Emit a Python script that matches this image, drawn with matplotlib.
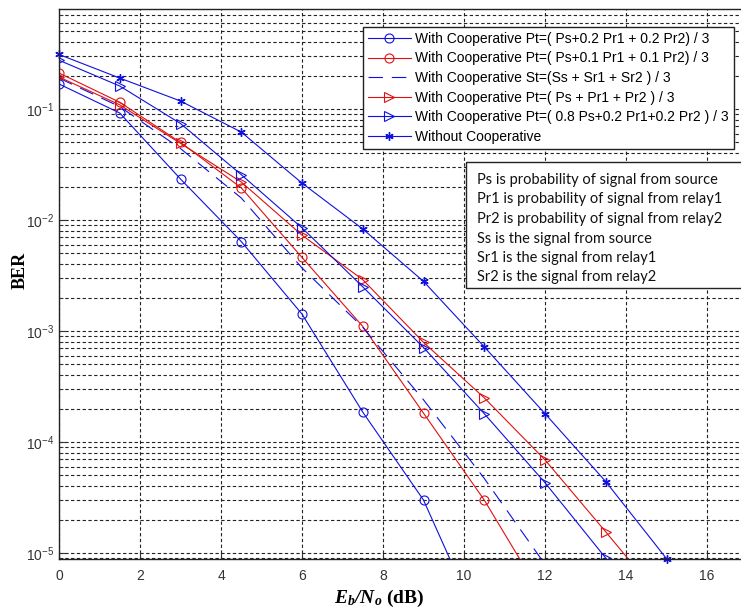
import matplotlib
matplotlib.use("Agg")
import matplotlib.pyplot as plt
from matplotlib.patches import Rectangle
from matplotlib.ticker import LogLocator, NullFormatter, FixedLocator

plt.rcParams['font.family'] = ['Liberation Sans', 'DejaVu Sans']
plt.rcParams['mathtext.fontset'] = 'custom'
plt.rcParams['mathtext.rm'] = 'Liberation Sans'
plt.rcParams['mathtext.it'] = 'Liberation Sans:italic'
plt.rcParams['mathtext.bf'] = 'Liberation Sans:bold'
plt.rcParams['mathtext.bfit'] = 'Liberation Serif:bold:italic'

# ---------------- data ----------------
ebno = [0, 1.5, 3, 4.5, 6, 7.5, 9, 10.5, 12, 13.5, 15]

ber_coop_02 = [0.168, 0.092, 0.0234, 0.0064, 0.00142, 1.86e-4, 3.0e-5, 1.8e-6]
ber_coop_01 = [0.211, 0.115, 0.050, 0.0195, 0.0046, 0.0011, 1.82e-4, 3.0e-5, 3.7e-6]
ber_coop_st = [0.19, 0.105, 0.044, 0.0158, 0.0037, 0.00108, 2.4e-4, 4.7e-5, 7.9e-6]
ber_coop_eq = [0.194, 0.109, 0.049, 0.022, 0.0073, 0.0029, 7.9e-4, 2.5e-4, 6.9e-5, 1.55e-5, 3.4e-6]
ber_coop_08 = [0.275, 0.161, 0.074, 0.0256, 0.0085, 0.0025, 7.1e-4, 1.8e-4, 4.3e-5, 9.0e-6, 2.0e-6]
ber_nocoop = [0.31, 0.19, 0.118, 0.062, 0.0215, 0.0083, 0.0028, 7.2e-4, 1.8e-4, 4.4e-5, 8.9e-6]

labels = [
    "With Cooperative Pt=( Ps+0.2 Pr1 + 0.2 Pr2) / 3",
    "With Cooperative Pt=( Ps+0.1 Pr1 + 0.1 Pr2) / 3",
    "With Cooperative St=(Ss + Sr1 + Sr2 ) / 3",
    "With Cooperative Pt=( Ps + Pr1 + Pr2 ) / 3",
    "With Cooperative Pt=( 0.8 Ps+0.2 Pr1+0.2 Pr2 ) / 3",
    "Without Cooperative",
]

note_lines = [
    "Ps is probability of signal from source",
    "Pr1 is probability of signal from relay1",
    "Pr2 is probability of signal from relay2",
    "Ss is the signal from source",
    "Sr1 is the signal from relay1",
    "Sr2 is the signal from relay2",
]

x_ticks = [0, 2, 4, 6, 8, 10, 12, 14, 16]

# ---------------- figure ----------------
W, H = 741, 613
fig = plt.figure(figsize=(W / 100, H / 100), dpi=100)
left_px, top_px, bottom_px = 59, 9, 559
xmax = 18
px_per_unit = 40.5
ax = fig.add_axes([left_px / W, (H - bottom_px) / H,
                   xmax * px_per_unit / W, (bottom_px - top_px) / H])

lw = 0.8
blue = '#1010e0'
red = '#e01010'
ax.plot(ebno[:len(ber_coop_02)], ber_coop_02, color=blue, lw=lw, marker='o',
        mfc='none', mec=blue, ms=6.5, mew=0.8, label=labels[0])
ax.plot(ebno[:len(ber_coop_01)], ber_coop_01, color=red, lw=lw, marker='o',
        mfc='none', mec=red, ms=6.5, mew=0.8, label=labels[1])
ax.plot(ebno[:len(ber_coop_st)], ber_coop_st, color=blue, lw=lw,
        linestyle=(0, (13, 8)), label=labels[2])
ax.plot(ebno[:len(ber_coop_eq)], ber_coop_eq, color=red, lw=lw, marker='>',
        mfc='none', mec=red, ms=6.5, mew=0.8, label=labels[3])
ax.plot(ebno[:len(ber_coop_08)], ber_coop_08, color=blue, lw=lw, marker='>',
        mfc='none', mec=blue, ms=6.5, mew=0.8, label=labels[4])
ax.plot(ebno[:len(ber_nocoop)], ber_nocoop, color=blue, lw=lw, marker=(6, 2, 0),
        ms=6, mew=1.0, mec=blue, label=labels[5], clip_on=False)

ax.set_yscale('log')
ax.set_xlim(0, xmax)
ax.set_ylim(8.83e-6, 0.796)
ax.xaxis.set_major_locator(FixedLocator(x_ticks))
ax.yaxis.set_major_locator(LogLocator(base=10, numticks=20))
ax.yaxis.set_minor_locator(LogLocator(base=10, subs=range(2, 10), numticks=20))
ax.yaxis.set_minor_formatter(NullFormatter())

grid_kw = dict(color='#222222', linestyle=(0, (3, 2.2)), linewidth=0.8)
ax.grid(True, which='major', axis='both', **grid_kw)
ax.grid(True, which='minor', axis='y', **grid_kw)
ax.set_axisbelow(True)

ax.tick_params(axis='both', which='both', direction='in', labelsize=10,
               colors='#333333', labelcolor='#333333')
ax.tick_params(axis='both', which='major', length=5)
ax.tick_params(axis='y', which='minor', length=3)
ax.tick_params(axis='x', pad=7)
for s in ax.spines.values():
    s.set_color('#222222')
    s.set_linewidth(1.0)

# axis labels
fig.text(379 / W, 1 - 598 / H, r"$\mathbfit{E_b/N_o}$ (dB)",
         ha='center', va='center', fontsize=14, fontweight='bold',
         family='Liberation Serif')
fig.text(20 / W, 1 - 270 / H, "BER", ha='center', va='center', rotation=90,
         fontsize=13, fontweight='bold', family='Liberation Serif')

# legend
leg = ax.legend(loc='upper left', bbox_to_anchor=(363 / W, 1 - 27 / H),
                bbox_transform=fig.transFigure, fontsize=10, frameon=True,
                fancybox=False, edgecolor='#222222', framealpha=1,
                handlelength=3.1, handletextpad=0.3, borderpad=0.35,
                labelspacing=0.4, borderaxespad=0)
leg.get_frame().set_linewidth(1.0)

# note box
bx0, by0, bx1, by1 = 466, 162, 742, 288
fig.patches.append(Rectangle((bx0 / W, 1 - by1 / H), (bx1 - bx0) / W,
                             (by1 - by0) / H, transform=fig.transFigure,
                             facecolor='white', edgecolor='#222222', lw=1.0,
                             zorder=5))
line_y = [180, 199.3, 219, 238.7, 257.7, 277.3]
for yy, txt in zip(line_y, note_lines):
    fig.text(477 / W, 1 - yy / H, txt, ha='left', va='center', fontsize=10.5,
             family=['Lato', 'DejaVu Sans'], color='#111111', zorder=6)

fig.savefig("out.png", dpi=100, facecolor='white')
